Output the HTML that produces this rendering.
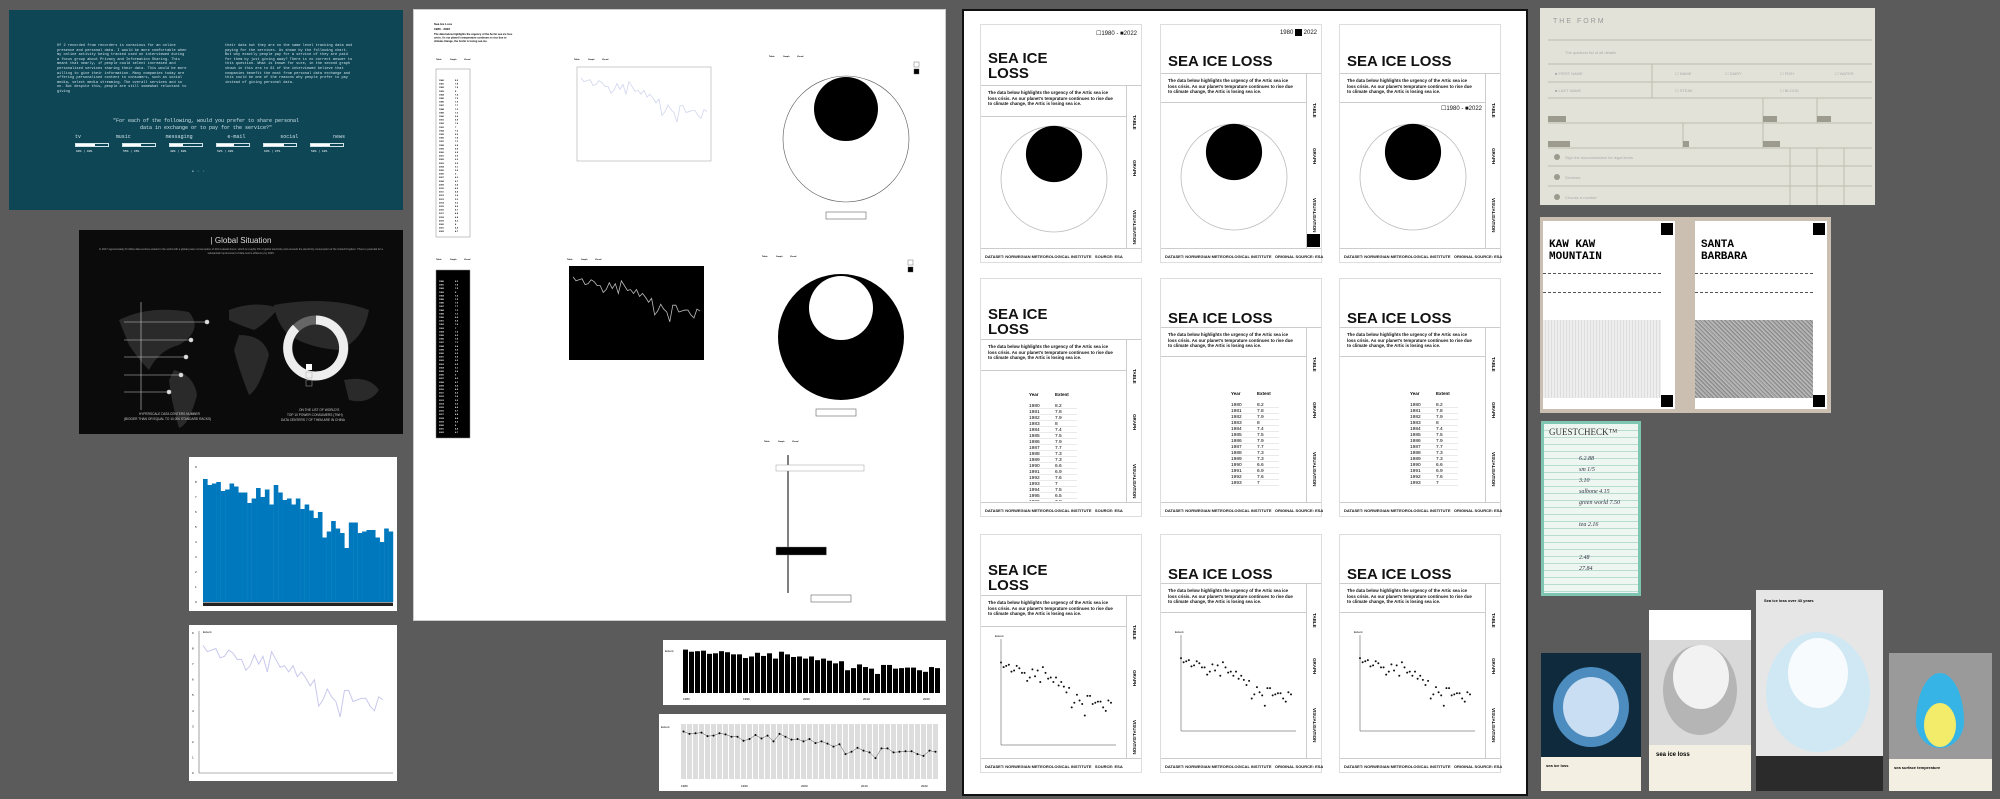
<!DOCTYPE html>
<html><head><meta charset="utf-8">
<style>
*{box-sizing:border-box;margin:0;padding:0}
body{width:2000px;height:799px;background:#5b5b5b;position:relative;overflow:hidden;font-family:"Liberation Sans",sans-serif}
.abs{position:absolute}
.mono{font-family:"Liberation Mono",monospace}
.card{position:absolute;width:162px;height:239px;background:#fff;border:1px solid #ddd;font-family:"Liberation Sans",sans-serif;color:#111}
.card .t{position:absolute;left:7px;font-weight:bold;font-size:15px;line-height:15px}
.card .p{position:absolute;left:7px;width:128px;font-size:4.4px;line-height:5.6px;font-weight:bold}
.card .ln{position:absolute;height:1px;background:#ccc}
.card .tab{position:absolute;font-size:4.5px;font-weight:bold;transform:rotate(90deg);transform-origin:left top;white-space:nowrap}
.card .ft{position:absolute;bottom:3px;left:4px;font-size:4px;font-weight:bold;white-space:nowrap}
svg text{font-family:"Liberation Sans",sans-serif}
</style></head><body>

<!-- teal panel -->
<div class="abs mono" style="left:9px;top:10px;width:394px;height:200px;background:#0e4656;color:#cfe3e8;">
  <div class="abs" style="left:48px;top:34px;width:130px;font-size:3.6px;line-height:4.6px">Of 2 recorded from recorders is conscious for an online presence and personal data. I would be more comfortable when my online activity being tracked used on interviewed during a focus group about Privacy and Information Sharing. This meant that nearly, if people could select increased and personalised services sharing their data. This would be more willing to give their information. Many companies today are offering personalised content to consumers, such as social media, select media streaming. The overall services and so on. But despite this, people are still somewhat reluctant to giving</div>
  <div class="abs" style="left:216px;top:34px;width:130px;font-size:3.6px;line-height:4.6px">their data but they are on the same level tracking data and paying for the services. As shown by the following chart. But why exactly people pay for a service of they are paid for them by just giving away? There is no correct answer to this question. What is known for sure, in the second graph shown in this era to 61 of the interviewed believe that companies benefit the most from personal data exchange and this could be one of the reasons why people prefer to pay instead of giving personal data.</div>
  <div class="abs" style="left:0;width:394px;top:108px;text-align:center;font-size:5px;line-height:7px">"For each of the following, would you prefer to share personal<br>data in exchange or to pay for the service?"</div>
  <div class="abs" style="left:66px;top:124px;width:270px;display:flex;justify-content:space-between;font-size:5px">
    <span>tv</span><span>music</span><span>messaging</span><span>e-mail</span><span>social</span><span>news</span>
  </div>
  <div class="abs" id="survey-bars" style="left:66px;top:133px;width:270px;height:14px"></div>
  <div class="abs" style="left:183px;top:160px;font-size:3px">● &nbsp;▫ &nbsp;▫</div>
</div>

<!-- global situation -->
<div class="abs" style="left:79px;top:230px;width:324px;height:204px;background:#0b0b0b;color:#ddd">
  <div class="abs" style="left:0;width:324px;top:6px;text-align:center;font-size:8px">| Global Situation</div>
  <div class="abs" style="left:15px;width:294px;top:18px;text-align:center;font-size:2.6px;line-height:3.6px;color:#aaa">In 2017 approximately 8 million data centres existed in the world with a global power consumption of 416 terawatt-hours, which is roughly 3% of global electricity and exceeds the electricity consumption of the United Kingdom. There is potential for a substantial improvement of data centre efficiency by 2025.</div>
  <svg class="abs" style="left:0;top:0" width="324" height="204">
    <g fill="#2a2a2a">
      <path d="M40 90 Q70 75 110 82 Q125 100 100 115 Q80 120 70 140 Q60 130 50 115 Z"/>
      <path d="M95 140 Q115 145 118 165 Q110 195 100 198 Q92 170 90 150 Z"/>
      <path d="M150 80 Q175 70 200 78 Q185 95 175 100 Q160 95 150 90 Z"/>
      <path d="M160 105 Q185 105 190 125 Q180 160 170 165 Q160 140 155 120 Z"/>
      <path d="M195 75 Q250 65 290 80 Q285 110 260 120 Q230 118 210 105 Q198 95 195 75 Z"/>
      <path d="M265 150 Q290 145 300 160 Q290 175 270 170 Z"/>
    </g>
    <g stroke="#ccc" stroke-width="0.6" fill="#ddd">
      <line x1="62" y1="72" x2="62" y2="180"/>
      <line x1="45" y1="92" x2="128" y2="92"/><circle cx="128" cy="92" r="2"/>
      <line x1="45" y1="110" x2="112" y2="110"/><circle cx="112" cy="110" r="2"/>
      <line x1="45" y1="127" x2="107" y2="127"/><circle cx="107" cy="127" r="2"/>
      <line x1="45" y1="145" x2="102" y2="145"/><circle cx="102" cy="145" r="2"/>
      <line x1="45" y1="162" x2="90" y2="162"/><circle cx="90" cy="162" r="2"/>
    </g>
    <circle cx="237" cy="118" r="28" fill="none" stroke="#666" stroke-width="9"/>
    <path d="M237 90 A28 28 0 1 1 217 98" fill="none" stroke="#eee" stroke-width="9"/>
    <rect x="227" y="134" width="6" height="6" fill="#fff"/>
    <rect x="227" y="142" width="6" height="6" fill="none" stroke="#aaa" stroke-width=".5"/>
    <rect x="227" y="150" width="6" height="6" fill="none" stroke="#aaa" stroke-width=".5"/>
    <text x="60" y="185" font-size="3.2" fill="#ccc">HYPERSCALE DATA CENTERS NUMBER</text>
    <text x="45" y="190" font-size="3.2" fill="#ccc">(BIGGER THAN OR EQUAL TO 10,000 STANDARD RACKS)</text>
    <text x="220" y="181" font-size="3.2" fill="#ccc">ON THE LIST OF WORLD'S</text>
    <text x="208" y="186" font-size="3.2" fill="#ccc">TOP 10 POWER CONSUMERS (TWH)</text>
    <text x="202" y="191" font-size="3.2" fill="#ccc">DATA CENTERS 7 OF THEM ARE IN CHINA</text>
  </svg>
</div>

<!-- blue bars -->
<div class="abs" style="left:189px;top:457px;width:208px;height:154px;background:#fff">
  <svg id="blueBars" width="208" height="154"></svg>
</div>
<!-- line chart white -->
<div class="abs" style="left:189px;top:625px;width:208px;height:156px;background:#fff">
  <svg id="lineLight" width="208" height="156"></svg>
</div>

<!-- big white doc -->
<div class="abs" style="left:413px;top:9px;width:533px;height:612px;background:#fff;border:1px solid #ccc">
  <svg id="docSvg" width="533" height="612"></svg>
</div>

<!-- black bars small -->
<div class="abs" style="left:663px;top:640px;width:283px;height:65px;background:#fff">
  <svg id="blackBars" width="283" height="65"></svg>
</div>
<!-- gray dot chart -->
<div class="abs" style="left:659px;top:714px;width:287px;height:77px;background:#fff">
  <svg id="dotChart" width="287" height="77"></svg>
</div>

<!-- sea ice doc -->
<div class="abs" id="seaDoc" style="left:962px;top:9px;width:566px;height:787px;background:#fff;border:2px solid #111"></div>

<!-- form -->
<div class="abs" style="left:1540px;top:8px;width:335px;height:197px;background:#e3e2d8;color:#999">
  <div class="abs" style="left:13px;top:10px;font-size:7px;letter-spacing:2px">THE FORM</div>
  <svg class="abs" style="left:0;top:0" width="335" height="197">
    <g stroke="#bdbcb0" stroke-width="1" fill="none">
      <line x1="8" y1="32" x2="332" y2="32"/><line x1="8" y1="56" x2="332" y2="56"/>
      <line x1="8" y1="74" x2="332" y2="74"/><line x1="8" y1="90" x2="332" y2="90"/>
      <line x1="8" y1="115" x2="332" y2="115"/><line x1="8" y1="140" x2="332" y2="140"/>
      <line x1="8" y1="158" x2="332" y2="158"/><line x1="8" y1="178" x2="332" y2="178"/>
      <line x1="112" y1="56" x2="112" y2="90"/><line x1="223" y1="90" x2="223" y2="140"/>
      <line x1="277" y1="90" x2="277" y2="115"/><line x1="143" y1="115" x2="143" y2="140"/>
      <line x1="250" y1="140" x2="250" y2="198"/><line x1="277" y1="140" x2="277" y2="198"/><line x1="304" y1="140" x2="304" y2="198"/>
    </g>
    <g fill="#9c9b8e"><rect x="8" y="108" width="18" height="6"/><rect x="223" y="108" width="14" height="6"/><rect x="277" y="108" width="14" height="6"/>
    <rect x="8" y="133" width="22" height="6"/><rect x="143" y="133" width="6" height="6"/><rect x="223" y="133" width="17" height="6"/>
    <circle cx="17" cy="149" r="3"/><circle cx="17" cy="169" r="3"/><circle cx="17" cy="189" r="3"/></g>
    <g fill="#aaa" font-size="4"><text x="25" y="46">The quickest list of all details</text><text x="15" y="67">■ FIRST NAME</text><text x="15" y="84">■ LAST NAME</text>
    <text x="135" y="67">☐ NAME</text><text x="185" y="67">☐ DAIRY</text><text x="240" y="67">☐ FISH</text><text x="295" y="67">☐ WATER</text>
    <text x="135" y="84">☐ STEAK</text><text x="240" y="84">☐ BLOOD</text><text x="25" y="151">Sign the documentation for legal items</text><text x="25" y="171">Services</text><text x="25" y="191">Choose a number</text></g>
  </svg>
</div>

<!-- coffee cards -->
<div class="abs" style="left:1540px;top:217px;width:291px;height:196px;background:#cbbfb2">
  <div class="abs" style="left:3px;top:4px;width:132px;height:188px;background:#fff">
    <div class="abs mono" style="left:6px;top:18px;font-size:11px;font-weight:bold;line-height:12px">KAW KAW<br>MOUNTAIN</div>
    <div class="abs" style="right:2px;top:2px;width:12px;height:12px;background:#000"></div>
    <div class="abs" style="right:2px;bottom:2px;width:12px;height:12px;background:#000"></div>
    <div class="abs" style="left:0;top:99px;width:118px;height:78px;background:repeating-linear-gradient(90deg,#eee 0 2px,#ddd 2px 3px)"></div>
    <div class="abs" style="left:0;top:52px;width:118px;border-top:1px dashed #555"></div>
    <div class="abs" style="left:0;top:71px;width:118px;border-top:1px dashed #555"></div>
  </div>
  <div class="abs" style="left:155px;top:4px;width:132px;height:188px;background:#fff">
    <div class="abs mono" style="left:6px;top:18px;font-size:11px;font-weight:bold;line-height:12px">SANTA<br>BARBARA</div>
    <div class="abs" style="right:2px;top:2px;width:12px;height:12px;background:#000"></div>
    <div class="abs" style="right:2px;bottom:2px;width:12px;height:12px;background:#000"></div>
    <div class="abs" style="left:0;top:99px;width:118px;height:78px;background:repeating-linear-gradient(45deg,#aaa 0 1px,#888 1px 2px,#bbb 2px 3px)"></div>
    <div class="abs" style="left:0;top:52px;width:118px;border-top:1px dashed #555"></div>
    <div class="abs" style="left:0;top:71px;width:118px;border-top:1px dashed #555"></div>
  </div>
</div>

<!-- guest check -->
<div class="abs" style="left:1541px;top:421px;width:100px;height:175px;background:#7fc6b2;padding:3px">
  <div style="width:94px;height:169px;background:repeating-linear-gradient(180deg,#eef6f1 0 6px,#b8dcd0 6px 7px);position:relative">
    <div class="abs" style="left:5px;top:3px;font-family:'Liberation Serif',serif;font-size:9px;color:#333;background:#eef6f1">GUESTCHECK™</div>
    <div class="abs" style="left:35px;top:30px;font-family:'Liberation Serif',serif;font-style:italic;font-size:6px;color:#334;line-height:11px">6.2.88<br>sm 1/5<br>3.10<br>salbone 4.15<br>green world 7.50<br><br>tea 2.16<br><br><br>2.48<br>27.84</div>
  </div>
</div>

<!-- posters -->
<div class="abs" style="left:1541px;top:653px;width:100px;height:138px;background:#f3efe2">
  <div style="height:104px;background:#0e2a3c;position:relative">
    <div class="abs" style="left:12px;top:14px;width:76px;height:80px;border-radius:50%;background:#4d8cbf"></div>
    <div class="abs" style="left:22px;top:24px;width:56px;height:60px;border-radius:50%;background:#c9def2"></div>
  </div>
  <div class="abs" style="left:5px;top:110px;font-size:4px;font-weight:bold">sea ice loss</div>
</div>
<div class="abs" style="left:1649px;top:610px;width:102px;height:181px;background:#f3efe2">
  <div style="height:30px;background:#fff"></div>
  <div style="height:105px;background:#d9d9d9;position:relative">
    <div class="abs" style="left:14px;top:5px;width:74px;height:90px;border-radius:50%;background:#b5b5b5"></div>
    <div class="abs" style="left:24px;top:5px;width:56px;height:64px;border-radius:50%;background:#f2f2f2"></div>
  </div>
  <div class="abs" style="left:7px;top:142px;font-size:6px;font-weight:bold">sea ice loss</div>
</div>
<div class="abs" style="left:1756px;top:590px;width:127px;height:201px;background:#e6e6e6">
  <div class="abs" style="left:8px;top:8px;font-size:4px;font-weight:bold">Sea ice loss over 43 years</div>
  <div class="abs" style="left:10px;top:42px;width:104px;height:120px;border-radius:50%;background:#cfe8f3"></div>
  <div class="abs" style="left:32px;top:48px;width:60px;height:70px;border-radius:50%;background:#f7fbfd"></div>
  <div class="abs" style="left:0;top:166px;width:127px;height:35px;background:#2b2b2b"></div>
</div>
<div class="abs" style="left:1889px;top:653px;width:103px;height:138px;background:#9a9a9a">
  <div class="abs" style="left:27px;top:20px;width:48px;height:75px;border-radius:50% 50% 50% 50%/65% 65% 35% 35%;background:#37b4e6"></div>
  <div class="abs" style="left:35px;top:50px;width:32px;height:44px;border-radius:50%;background:#f3ec6a"></div>
  <div class="abs" style="left:0;top:106px;width:103px;height:32px;background:#f3efe2"></div>
  <div class="abs" style="left:5px;top:112px;font-size:4px;font-weight:bold">sea surface temperature</div>
</div>

<script>
const years = [1980,1981,1982,1983,1984,1985,1986,1987,1988,1989,1990,1991,1992,1993,1994,1995,1996,1997,1998,1999,2000,2001,2002,2003,2004,2005,2006,2007,2008,2009,2010,2011,2012,2013,2014,2015,2016,2017,2018,2019,2020,2021,2022];
const extent = [8.2,7.8,7.9,8.0,7.4,7.5,7.9,7.7,7.3,7.3,6.6,6.9,7.6,7.0,7.5,6.5,7.8,7.3,6.8,6.9,6.5,6.9,6.2,6.5,6.1,5.6,6.0,4.3,4.7,5.4,4.9,4.6,3.6,5.3,5.3,4.6,4.7,4.8,4.8,4.3,4.0,4.9,4.7];
const yTicks = [0,1,2,3,4,5,6,7,8,9];
const xTickYears = [1980,1990,2000,2010,2020];
const surveyCats = ['tv','music','messaging','e-mail','social','news'];
const surveyShare = [60,55,40,52,63,58];
const NS='http://www.w3.org/2000/svg';
function mk(p,tag){const e=document.createElementNS(NS,tag);p.appendChild(e);return e;}
function sx(x0,w,n){return i=>x0+i*w/n;}
function sy(y0,h,max){return v=>y0+h-v/max*h;}

// blue bars
(function(){const s=document.getElementById('blueBars');const X=sx(14,190,years.length),Y=sy(10,135,9);
 const ax=mk(s,'line');ax.setAttribute('x1',14);ax.setAttribute('x2',204);ax.setAttribute('y1',145);ax.setAttribute('y2',145);ax.setAttribute('stroke','#333');
 
 
 extent.forEach((v,i)=>{const r=mk(s,'rect');r.setAttribute('x',X(i));r.setAttribute('width',190/years.length+0.2);r.setAttribute('y',Y(v));r.setAttribute('height',145-Y(v));r.setAttribute('fill','#0078be');
 
 });
 yTicks.forEach(t=>{const tx=mk(s,'text');tx.setAttribute('x',6);tx.setAttribute('y',Y(t)+1);tx.setAttribute('font-size','3');tx.textContent=t;
 
 });
 const b=mk(s,'rect');b.setAttribute('x',14);b.setAttribute('y',146);b.setAttribute('width',190);b.setAttribute('height',3);b.setAttribute('fill','#222');
 
 
})();

// light line chart
function lineChart(s,x0,y0,w,h,max,color,sw){const X=sx(x0,w,years.length-1),Y=sy(y0,h,max);
 const p=mk(s,'polyline');p.setAttribute('points',extent.map((v,i)=>X(i)+','+Y(v)).join(' '));p.setAttribute('fill','none');p.setAttribute('stroke',color);p.setAttribute('stroke-width',sw);
 
 
 return {X,Y};}
(function(){const s=document.getElementById('lineLight');
 const a=mk(s,'path');a.setAttribute('d','M10 6 V148 H204');a.setAttribute('stroke','#666');a.setAttribute('fill','none');a.setAttribute('stroke-width','.6');
 
 
 const {Y}=lineChart(s,14,8,180,140,9,'#c8c8ec',1);
 yTicks.forEach(t=>{const tx=mk(s,'text');tx.setAttribute('x',3);tx.setAttribute('y',Y(t)+1);tx.setAttribute('font-size','3');tx.textContent=t;
 
 });
 const tt=mk(s,'text');tt.setAttribute('x',14);tt.setAttribute('y',8);tt.setAttribute('font-size','3');tt.textContent='Extent';
 
 
})();

// prototype doc
(function(){const s=document.getElementById('docSvg');
 function txt(x,y,t,fs,fill,w){const e=mk(s,'text');e.setAttribute('x',x);e.setAttribute('y',y);e.setAttribute('font-size',fs);e.setAttribute('fill',fill||'#000');if(w)e.setAttribute('font-weight','bold');e.textContent=t;return e;}
 let e=txt(20,15,'Sea Ice Loss',3,'#000',1);
 
 
 e=txt(20,20,'1980 - 2022',3,'#000',1);
 
 
 ['The data below highlights the urgency of the Arctic sea ice loss','crisis. As our planet\'s temperature continues to rise due to','climate change, the Arctic is losing sea ice.'].forEach((l,i)=>{e=txt(20,25+i*3.5,l,2.6,'#000',1);
 
 });
 ['Table','Graph','Visual'].forEach((l,i)=>{[[22,50],[160,50],[355,47],[22,250],[153,250],[348,247],[350,432]].forEach(p=>{const t=txt(p[0]+i*14,p[1],l,2.2,'#000',1);
 
 });});
 function table(x,y,dark){const r=mk(s,'rect');r.setAttribute('x',x);r.setAttribute('y',y);r.setAttribute('width',34);r.setAttribute('height',168);r.setAttribute('fill',dark?'#000':'#fff');r.setAttribute('stroke','#888');r.setAttribute('stroke-width','.5');
 
 
 years.forEach((yv,i)=>{let t=txt(x+3,y+12+i*3.6,yv,2.2,dark?'#fff':'#000',1);
 
 
 t=txt(x+19,y+12+i*3.6,extent[i],2.2,dark?'#fff':'#000',1);
 
 });}
 table(22,59,false);table(22,260,true);
 let bx=mk(s,'rect');bx.setAttribute('x',163);bx.setAttribute('y',57);bx.setAttribute('width',134);bx.setAttribute('height',94);bx.setAttribute('fill','#fff');bx.setAttribute('stroke','#aaa');bx.setAttribute('stroke-width','.6');
 
 
 lineChart(s,167,60,126,87,9,'#d0d6ee',0.8);
 bx=mk(s,'rect');bx.setAttribute('x',155);bx.setAttribute('y',256);bx.setAttribute('width',135);bx.setAttribute('height',94);bx.setAttribute('fill','#000');
 
 
 lineChart(s,159,259,127,88,9,'#bbb',0.8);
 let c=mk(s,'ellipse');c.setAttribute('cx',432);c.setAttribute('cy',129);c.setAttribute('rx',63);c.setAttribute('ry',63);c.setAttribute('fill','#fff');c.setAttribute('stroke','#555');c.setAttribute('stroke-width','.6');
 
 
 c=mk(s,'ellipse');c.setAttribute('cx',432);c.setAttribute('cy',99);c.setAttribute('rx',32);c.setAttribute('ry',32);c.setAttribute('fill','#000');
 
 
 c=mk(s,'ellipse');c.setAttribute('cx',427);c.setAttribute('cy',327);c.setAttribute('rx',63);c.setAttribute('ry',63);c.setAttribute('fill','#000');
 
 
 c=mk(s,'ellipse');c.setAttribute('cx',427);c.setAttribute('cy',298);c.setAttribute('rx',32);c.setAttribute('ry',32);c.setAttribute('fill','#fff');
 
 
 [[500,52,'#fff'],[500,59,'#000'],[494,250,'#fff'],[494,257,'#000']].forEach(p=>{const r=mk(s,'rect');r.setAttribute('x',p[0]);r.setAttribute('y',p[1]);r.setAttribute('width',5);r.setAttribute('height',5);r.setAttribute('fill',p[2]);r.setAttribute('stroke','#555');r.setAttribute('stroke-width','.4');
 
 });
 const hb=[extent[0],extent[extent.length-1]];const hx=v=>362+v/8.2*88;
 let l=mk(s,'line');l.setAttribute('x1',374);l.setAttribute('x2',374);l.setAttribute('y1',445);l.setAttribute('y2',583);l.setAttribute('stroke','#000');
 
 
 hb.forEach((v,i)=>{const r=mk(s,'rect');r.setAttribute('x',362);r.setAttribute('y',i?537:455);r.setAttribute('width',hx(v)-362);r.setAttribute('height',i?8:6);r.setAttribute('fill',i?'#000':'#fff');r.setAttribute('stroke','#888');r.setAttribute('stroke-width','.4');
 
 });
 [[432,202],[422,399],[417,585]].forEach(p=>{const r=mk(s,'rect');r.setAttribute('x',p[0]-20);r.setAttribute('y',p[1]);r.setAttribute('width',40);r.setAttribute('height',7);r.setAttribute('fill','#fff');r.setAttribute('stroke','#444');r.setAttribute('stroke-width','.5');
 
 });
})();

// black bars
(function(){const s=document.getElementById('blackBars');const X=sx(20,258,years.length),Y=sy(8,45,8.5);
 extent.forEach((v,i)=>{const r=mk(s,'rect');r.setAttribute('x',X(i));r.setAttribute('width',258/years.length-1);r.setAttribute('y',Y(v));r.setAttribute('height',53-Y(v));r.setAttribute('fill','#000');
 
 });
 xTickYears.forEach(yv=>{const t=mk(s,'text');t.setAttribute('x',X(yv-1980));t.setAttribute('y',60);t.setAttribute('font-size','3');t.textContent=yv;
 
 });
 const lb=mk(s,'text');lb.setAttribute('x',2);lb.setAttribute('y',12);lb.setAttribute('font-size','3');lb.textContent='Extent';
 
 
})();

// dot chart
(function(){const s=document.getElementById('dotChart');const X=sx(22,258,years.length),Y=sy(10,55,9.5);
 extent.forEach((v,i)=>{const r=mk(s,'rect');r.setAttribute('x',X(i));r.setAttribute('width',258/years.length-1);r.setAttribute('y',10);r.setAttribute('height',55);r.setAttribute('fill','#ddd');
 
 });
 const p=mk(s,'polyline');p.setAttribute('points',extent.map((v,i)=>(X(i)+2.5)+','+Y(v)).join(' '));p.setAttribute('fill','none');p.setAttribute('stroke','#555');p.setAttribute('stroke-width','.5');
 
 
 extent.forEach((v,i)=>{const c=mk(s,'circle');c.setAttribute('cx',X(i)+2.5);c.setAttribute('cy',Y(v));c.setAttribute('r',1);c.setAttribute('fill','#000');
 
 });
 xTickYears.forEach(yv=>{const t=mk(s,'text');t.setAttribute('x',X(yv-1980));t.setAttribute('y',73);t.setAttribute('font-size','3');t.textContent=yv;
 
 });
 const lb=mk(s,'text');lb.setAttribute('x',2);lb.setAttribute('y',14);lb.setAttribute('font-size','3');lb.textContent='Extent';
 
 
})();

// sea ice cards
(function(){const doc=document.getElementById('seaDoc');
 const cx=[16,196,375],cy=[13,267,523];
 for(let r=0;r<3;r++)for(let c=0;c<3;c++){
  const card=document.createElement('div');card.className='card';card.style.left=cx[c]+'px';card.style.top=cy[r]+'px';
  
  
  const two=c===0;const hdr=two?60:48;const txtB=two?91:77;
  let h='';
  if(r===0){h+= c===1?'<div style="position:absolute;right:4px;top:4px;font-size:6px">1980 <span style="display:inline-block;width:7px;height:7px;background:#000;vertical-align:middle"></span> 2022</div>':(c===0?'<div style="position:absolute;right:4px;top:5px;font-size:6px">☐1980 - ■2022</div>':'<div style="position:absolute;right:18px;top:'+(txtB+3)+'px;font-size:6px">☐1980 - ■2022</div>');}
  h+= two?'<div class="t" style="top:'+(r===0?26:28)+'px">SEA ICE<br>LOSS</div>':'<div class="t" style="top:'+(r===0?29:32)+'px">SEA ICE LOSS</div>';
  h+='<div class="ln" style="left:0;right:0;top:'+hdr+'px"></div>';
  h+='<div class="p" style="top:'+(hdr+5)+'px">The data below highlights the urgency of the Artic sea ice loss crisis. As our planet\'s temprature continues to rise due to climate change, the Artic is losing sea ice.</div>';
  h+='<div class="ln" style="left:0;right:15px;top:'+txtB+'px"></div>';
  h+='<div style="position:absolute;right:0;top:'+hdr+'px;width:15px;bottom:14px;border-left:1px solid #ccc"></div>';
  h+='<div class="tab" style="left:156px;top:'+(hdr+30)+'px">TABLE</div><div class="tab" style="left:156px;top:'+(hdr+75)+'px">GRAPH</div><div class="tab" style="left:156px;top:'+(hdr+125)+'px">VISUALISATION</div>';
  if(r===0&&c===1)h+='<div style="position:absolute;right:1px;bottom:15px;width:13px;height:13px;background:#000"></div>';
  h+='<div class="ln" style="left:0;right:0;bottom:13px"></div><div class="ft">DATASET: NORWEGIAN METEOROLOGICAL INSTITUTE &nbsp; '+(c===0?'SOURCE: ESA':'ORIGINAL SOURCE: ESA')+'</div>';
  card.innerHTML=h;
  const sv=document.createElementNS(NS,'svg');sv.setAttribute('width',140);sv.setAttribute('height',130);sv.style.position='absolute';sv.style.left='0';sv.style.top=(txtB+1)+'px';
  
  
  card.appendChild(sv);
  if(r===0){const cyy=two?62:74;const big=mk(sv,'circle');big.setAttribute('cx',73);big.setAttribute('cy',cyy);big.setAttribute('r',53);big.setAttribute('fill','#fff');big.setAttribute('stroke','#bbb');big.setAttribute('stroke-width','.8');
   
   
   const sm=mk(sv,'circle');sm.setAttribute('cx',73);sm.setAttribute('cy',cyy-25);sm.setAttribute('r',53*Math.sqrt(extent[extent.length-1]/extent[0])*0.7);sm.setAttribute('fill','#000');
   
   }
  else if(r===1){const x0=two?48:70,y0=two?25:38;
   let t=mk(sv,'text');t.setAttribute('x',x0);t.setAttribute('y',y0);t.setAttribute('font-size',4.5);t.setAttribute('font-weight','bold');t.textContent='Year';
   
   
   t=mk(sv,'text');t.setAttribute('x',x0+26);t.setAttribute('y',y0);t.setAttribute('font-size',4.5);t.setAttribute('font-weight','bold');t.textContent='Extent';
   
   
   for(let i=0;i<17;i++){let a=mk(sv,'text');a.setAttribute('x',x0);a.setAttribute('y',y0+11+i*6);a.setAttribute('font-size',4.8);a.textContent=years[i];
    
    
    a=mk(sv,'text');a.setAttribute('x',x0+26);a.setAttribute('y',y0+11+i*6);a.setAttribute('font-size',4.8);a.textContent=extent[i];
    
    
    const ln=mk(sv,'line');ln.setAttribute('x1',x0);ln.setAttribute('x2',x0+48);ln.setAttribute('y1',y0+12.5+i*6);ln.setAttribute('y2',y0+12.5+i*6);ln.setAttribute('stroke','#bbb');ln.setAttribute('stroke-width','.3');
    
    }}
  else{const top=two?12:22,X=sx(20,110,years.length-1),Y=sy(top+5,100-top+10,8.5);
   const ax=mk(sv,'path');ax.setAttribute('d','M20 '+top+' V118 H135');ax.setAttribute('stroke','#444');ax.setAttribute('fill','none');ax.setAttribute('stroke-width','.5');
   
   
   extent.forEach((v,i)=>{const d=mk(sv,'circle');d.setAttribute('cx',X(i));d.setAttribute('cy',Y(v)+15);d.setAttribute('r',1);d.setAttribute('fill','#111');
    
    });
   const lb=mk(sv,'text');lb.setAttribute('x',14);lb.setAttribute('y',top-2);lb.setAttribute('font-size',3);lb.textContent='Extent';
   
   }
  doc.appendChild(card);
 }
})();

// survey bars
(function(){const host=document.getElementById('survey-bars');
 surveyShare.forEach((v,i)=>{const d=document.createElement('div');d.style.cssText='position:absolute;top:0;left:'+(i*47)+'px;width:34px;height:4px;border:0.5px solid #cfe3e8';
  
  
  const f=document.createElement('div');f.style.cssText='height:100%;background:#fff;width:'+v+'%';d.appendChild(f);
  const lab=document.createElement('div');lab.style.cssText='position:absolute;top:6px;left:0;font-size:3px;color:#fff;white-space:nowrap';lab.textContent=v+'% | '+(100-v)+'%';
  
  
  d.appendChild(lab);host.appendChild(d);});
})();
</script>
</body></html>
